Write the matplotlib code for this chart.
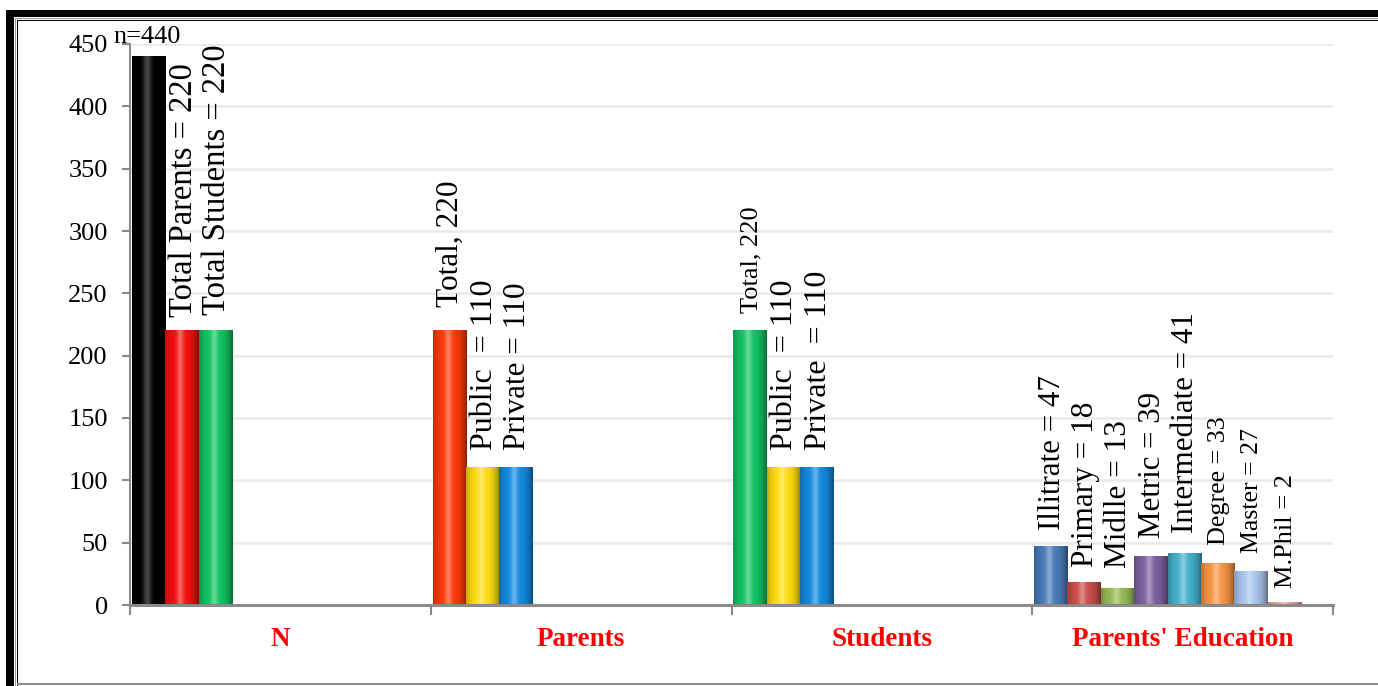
import numpy as np
import matplotlib
matplotlib.use("Agg")
import matplotlib.pyplot as plt
from matplotlib.colors import to_rgb
from matplotlib.patches import Rectangle

# data
groups = ["N", "Parents", "Students", "Parents' Education"]
n_vals = [440, 220, 220]
parent_vals = [220, 110, 110]
student_vals = [220, 110, 110]
edu_vals = [47, 18, 13, 39, 41, 33, 27, 2]

n_labels = ["n=440", "Total Parents = 220", "Total Students = 220"]
parent_labels = ["Total, 220", "Public  = 110", "Private = 110"]
student_labels = ["Total, 220", "Public  = 110", "Private  = 110"]
edu_labels = ["Illitrate = 47", "Primary = 18", "Midlle = 13", "Metric = 39",
              "Intermediate = 41", "Degree = 33", "Master = 27", "M.Phil = 2"]

# styles
n_colors = ["#050505", "#F51010", "#12C462"]
parent_colors = ["#FF3A0A", "#FFDD10", "#138AE0"]
student_colors = ["#12C462", "#FFDD10", "#138AE0"]
edu_colors = ["#4A7BBA", "#CC4E4B", "#98BC55", "#7D62A0", "#45B0CC",
              "#F79646", "#A9C6EE", "#E6A3A3"]

n_sizes = [19, 23.5, 23.5]
parent_sizes = [22.5, 23, 22.5]
student_sizes = [19, 23, 23]
edu_sizes = [22.3, 22.5, 22.5, 22.3, 22.3, 18.8, 18.6, 19]

n_gaps = [8, 14, 16]
parent_gaps = [24, 18, 18]
student_gaps = [18, 18, 18]
edu_gaps = [16, 16, 21, 18, 21, 19, 18, 15]

all_vals = [n_vals, parent_vals, student_vals, edu_vals]
all_labels = [n_labels, parent_labels, student_labels, edu_labels]
all_colors = [n_colors, parent_colors, student_colors, edu_colors]
all_sizes = [n_sizes, parent_sizes, student_sizes, edu_sizes]
all_gaps = [n_gaps, parent_gaps, student_gaps, edu_gaps]

plt.rcParams['font.family'] = ['Liberation Serif', 'DejaVu Serif']

W, H = 1378, 686
fig = plt.figure(figsize=(W / 100, H / 100), dpi=100)
ax = fig.add_axes([130 / W, 1 - 605 / H, (1333 - 130) / W, (605 - 44) / H])


def cylinder(bar, color):
    # fake the rounded 3d look of the excel bars
    x0, y0 = bar.get_x(), bar.get_y()
    w, h = bar.get_width(), bar.get_height()
    base = np.array(to_rgb(color))
    t = np.linspace(0, 1, 80)
    dark = 0.45 * np.clip(np.abs(t - 0.45) / 0.55, 0, 1) ** 3
    light = 0.35 * np.exp(-((t - 0.45) / 0.1) ** 2)
    img = np.empty((1, t.size, 3))
    img[0] = base[None, :] * (1 - dark[:, None])
    img[0] = img[0] + (1 - img[0]) * light[:, None]
    if color == "#050505":
        img[0] = np.repeat((0.28 * np.exp(-((t - 0.45) / 0.12) ** 2))[:, None], 3, axis=1)
    ax.imshow(img, extent=(x0, x0 + w, y0, y0 + h), aspect='auto',
              interpolation='bicubic', zorder=3)


bw = 0.111
off = 0.006
for g, (vals, labels, colors, sizes, gaps) in enumerate(
        zip(all_vals, all_labels, all_colors, all_sizes, all_gaps)):
    xs = g + off + bw * np.arange(len(vals))
    bars = ax.bar(xs, vals, width=bw, align='edge', color=colors,
                  edgecolor='none', zorder=2)
    for b, c in zip(bars, colors):
        cylinder(b, c)
    for k, (b, lab, s, gp) in enumerate(zip(bars, labels, sizes, gaps)):
        xc = b.get_x() + b.get_width() / 2
        if g == 0 and k == 0:
            ax.annotate(lab, (xc, b.get_height()), xytext=(-1, gp * 0.72),
                        textcoords='offset points', ha='center', va='bottom',
                        fontsize=s, annotation_clip=False, zorder=5)
        else:
            ax.annotate(lab, (xc, b.get_height()), xytext=(1, gp * 0.72),
                        textcoords='offset points', ha='center', va='bottom',
                        rotation=90, fontsize=s, annotation_clip=False, zorder=5)

ax.set_xlim(0, 4)
ax.set_ylim(0, 450)
ax.set_yticks(np.arange(0, 451, 50))
ax.yaxis.grid(True, color='#E9E9E9', lw=1.8, zorder=0)
ax.set_axisbelow(True)

ax.set_xticks(range(5))
ax.set_xticklabels([])
ax.set_xticks(np.arange(4) + 0.5, minor=True)
ax.set_xticklabels(groups, minor=True, color='#FF0000', fontweight='bold',
                   fontsize=19.5)
ax.tick_params(axis='x', which='minor', length=0, pad=16)
ax.tick_params(axis='x', which='major', length=7, width=1.5, color='#888888',
               direction='out')
ax.tick_params(axis='y', length=6, width=1.5, color='#888888', labelsize=19,
               pad=10)

for s in ['top', 'right']:
    ax.spines[s].set_visible(False)
ax.spines['left'].set_color('#8A8A8A')
ax.spines['left'].set_linewidth(1.5)
ax.spines['bottom'].set_color('#8A8A8A')
ax.spines['bottom'].set_linewidth(2.2)
ax.spines['bottom'].set_zorder(4)


# frame around the figure
def px(x, y, w, h, **kw):
    fig.add_artist(Rectangle((x / W, 1 - (y + h) / H), w / W, h / H,
                             transform=fig.transFigure, **kw))


px(6, 10, 8, 700, color='black', lw=0)
px(6, 10, 1400, 7, color='black', lw=0)
px(15, 18, 1, 700, color='#999999', lw=0)
px(15, 18, 1400, 1, color='#999999', lw=0)
px(16.5, 19.5, 1.5, 700, color='black', lw=0)
px(16.5, 19.5, 1400, 1.5, color='black', lw=0)
px(17, 683, 1400, 1.5, color='#888888', lw=0)

fig.savefig("out.png", dpi=100)
